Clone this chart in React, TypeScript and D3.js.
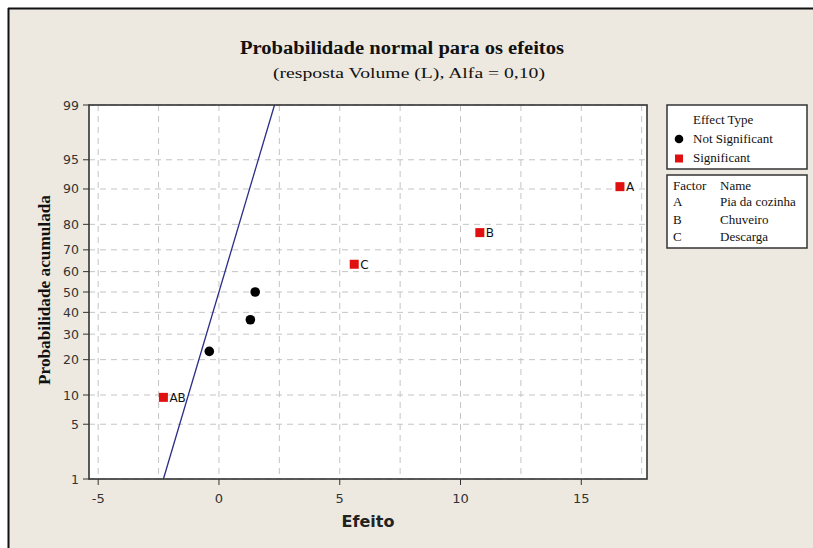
import React from 'react';
import * as d3 from 'd3';

// effects
const effectNames = ['A', 'B', 'C', '', '', '', 'AB'];
const effectValues = [16.6, 10.8, 5.6, 1.5, 1.3, -0.4, -2.3];
const effectProbs = [90.5, 77.0, 63.5, 50.0, 36.5, 23.0, 9.5];
const effectSignificant = [true, true, true, false, false, false, true];

// reference line (effect at 1% and at 99%)
const lineEffects = [-2.3, 2.3];
const lineProbs = [1, 99];

const xTicks = [-5, 0, 5, 10, 15];
const xGrid = [-5, -2.5, 0, 2.5, 5, 7.5, 10, 12.5, 15, 17.5];
const yTicks = [1, 5, 10, 20, 30, 40, 50, 60, 70, 80, 90, 95, 99];

const factorCodes = ['A', 'B', 'C'];
const factorNames = ['Pia da cozinha', 'Chuveiro', 'Descarga'];

// inverse normal cdf (Acklam)
const probit = (p: number) => {
  const a = [-39.69683028665376, 220.9460984245205, -275.9285104469687, 138.357751867269, -30.66479806614716, 2.506628277459239];
  const b = [-54.47609879822406, 161.5858368580409, -155.6989798598866, 66.80131188771972, -13.28068155288572];
  const c = [-0.007784894002430293, -0.3223964580411365, -2.400758277161838, -2.549732539343734, 4.374664141464968, 2.938163982698783];
  const d = [0.007784695709041462, 0.3224671290700398, 2.445134137142996, 3.754408661907416];
  const pl = 0.02425;
  if (p < pl) {
    const q = Math.sqrt(-2 * Math.log(p));
    return (((((c[0] * q + c[1]) * q + c[2]) * q + c[3]) * q + c[4]) * q + c[5]) / ((((d[0] * q + d[1]) * q + d[2]) * q + d[3]) * q + 1);
  }
  if (p > 1 - pl) {
    const q = Math.sqrt(-2 * Math.log(1 - p));
    return -(((((c[0] * q + c[1]) * q + c[2]) * q + c[3]) * q + c[4]) * q + c[5]) / ((((d[0] * q + d[1]) * q + d[2]) * q + d[3]) * q + 1);
  }
  const q = p - 0.5;
  const r = q * q;
  return (((((a[0] * r + a[1]) * r + a[2]) * r + a[3]) * r + a[4]) * r + a[5]) * q / (((((b[0] * r + b[1]) * r + b[2]) * r + b[3]) * r + b[4]) * r + 1);
};

const W = 813;
const H = 548;
const plot = { left: 89, right: 647, top: 105, bottom: 479 };

const serif = '"Liberation Serif", "DejaVu Serif", serif';
const sans = '"DejaVu Sans", Verdana, sans-serif';

export default function App() {
  const x = d3.scaleLinear().domain([-5.38, 17.72]).range([plot.left, plot.right]);
  const zScale = d3.scaleLinear().domain([probit(0.01), probit(0.99)]).range([plot.bottom, plot.top]);
  const y = (p: number) => zScale(probit(p / 100));

  const line = d3.line<number>()
    .x((d) => x(lineEffects[d]))
    .y((d) => y(lineProbs[d]));

  const grid = '#c4c4c4';

  return (
    <svg width={W} height={H} style={{ position: 'absolute', left: 0, top: 0, background: '#fff' }}>
      <rect x={8} y={8} width={W - 8} height={H - 8} fill="#ede9e0" />
      <line x1={8} y1={8.5} x2={W} y2={8.5} stroke="#111" strokeWidth={2} />
      <line x1={8.5} y1={8} x2={8.5} y2={H} stroke="#111" strokeWidth={2} />

      <text x={402} y={54} textAnchor="middle" fontFamily={serif} fontWeight="bold" fontSize={18} fill="#111"
        textLength={324} lengthAdjust="spacingAndGlyphs">Probabilidade normal para os efeitos</text>
      <text x={409} y={78} textAnchor="middle" fontFamily={serif} fontSize={15} fill="#111"
        textLength={272} lengthAdjust="spacingAndGlyphs">(resposta Volume (L), Alfa = 0,10)</text>

      <rect x={plot.left} y={plot.top} width={plot.right - plot.left} height={plot.bottom - plot.top} fill="#fff" />

      {xGrid.map((v) => (
        <line key={'gx' + v} x1={x(v)} x2={x(v)} y1={plot.top} y2={plot.bottom}
          stroke={grid} strokeDasharray="6,5" />
      ))}
      {yTicks.map((p) => (
        <line key={'gy' + p} x1={plot.left} x2={plot.right} y1={y(p)} y2={y(p)}
          stroke={grid} strokeDasharray="6,5" />
      ))}

      <path d={line([0, 1]) ?? ''} fill="none" stroke="#2a2d86" strokeWidth={1.3} />

      {effectValues.map((v, i) => effectSignificant[i] ? (
        <rect key={'pt' + i} x={x(v) - 4.5} y={y(effectProbs[i]) - 4.5} width={9} height={9} fill="#e01010" />
      ) : (
        <circle key={'pt' + i} cx={x(v)} cy={y(effectProbs[i])} r={4.8} fill="#000" />
      ))}
      {effectValues.map((v, i) => effectNames[i] ? (
        <text key={'lb' + i} x={x(v) + 6} y={y(effectProbs[i]) + 4.5} fontFamily={sans} fontSize={12} fill="#111">
          {effectNames[i]}
        </text>
      ) : null)}

      <rect x={plot.left} y={plot.top} width={plot.right - plot.left} height={plot.bottom - plot.top}
        fill="none" stroke="#333" strokeWidth={1.6} />

      {xTicks.map((v) => (
        <g key={'tx' + v}>
          <line x1={x(v)} x2={x(v)} y1={plot.bottom} y2={plot.bottom + 6} stroke="#333" />
          <text x={x(v)} y={plot.bottom + 24} textAnchor="middle" fontFamily={sans} fontSize={13} fill="#333">{v}</text>
        </g>
      ))}
      {yTicks.map((p) => (
        <g key={'ty' + p}>
          <line x1={plot.left - 6} x2={plot.left} y1={y(p)} y2={y(p)} stroke="#333" />
          <text x={plot.left - 10} y={y(p) + 4.5} textAnchor="end" fontFamily={sans} fontSize={12.5} fill="#333">{p}</text>
        </g>
      ))}

      <text x={368} y={527} textAnchor="middle" fontFamily={sans} fontWeight="bold" fontSize={16} fill="#222">Efeito</text>
      <text transform={`translate(50, 290) rotate(-90)`} textAnchor="middle" fontFamily={serif} fontWeight="bold"
        fontSize={16} fill="#111" textLength={190} lengthAdjust="spacingAndGlyphs">Probabilidade acumulada</text>

      {/* legend: effect type */}
      <rect x={667} y={105} width={140} height={64} fill="#fff" stroke="#333" strokeWidth={1.5} />
      <text x={693} y={124} fontFamily={serif} fontSize={13} fill="#111">Effect Type</text>
      <circle cx={679} cy={139} r={4.3} fill="#000" />
      <text x={693} y={143} fontFamily={serif} fontSize={13} fill="#111">Not Significant</text>
      <rect x={675} y={154.5} width={8} height={8} fill="#e01010" />
      <text x={693} y={162} fontFamily={serif} fontSize={13} fill="#111">Significant</text>

      {/* legend: factor names */}
      <rect x={667} y={175} width={140} height={73} fill="#fff" stroke="#333" strokeWidth={1.5} />
      <text x={673} y={190} fontFamily={serif} fontSize={13} fill="#111">Factor</text>
      <text x={720} y={190} fontFamily={serif} fontSize={13} fill="#111">Name</text>
      {factorCodes.map((f, i) => (
        <g key={'f' + f}>
          <text x={673} y={206 + i * 17.5} fontFamily={serif} fontSize={13} fill="#111">{f}</text>
          <text x={720} y={206 + i * 17.5} fontFamily={serif} fontSize={13} fill="#111">{factorNames[i]}</text>
        </g>
      ))}
    </svg>
  );
}
